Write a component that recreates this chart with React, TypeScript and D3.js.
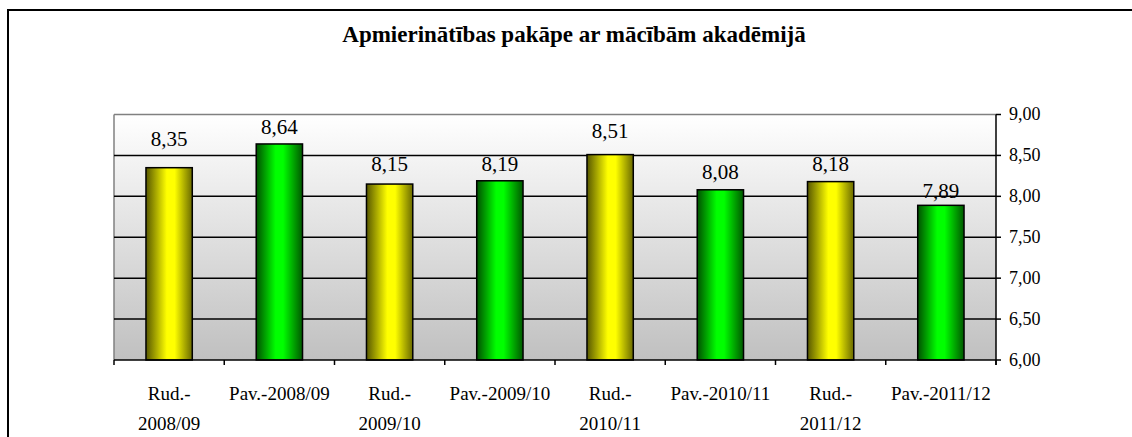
import React from "react";
import * as d3 from "d3";

const categories: string[][] = [
  ["Rud.-", "2008/09"],
  ["Pav.-2008/09"],
  ["Rud.-", "2009/10"],
  ["Pav.-2009/10"],
  ["Rud.-", "2010/11"],
  ["Pav.-2010/11"],
  ["Rud.-", "2011/12"],
  ["Pav.-2011/12"],
];
const values: number[] = [8.35, 8.64, 8.15, 8.19, 8.51, 8.08, 8.18, 7.89];
const barKinds: string[] = ["rud", "pav", "rud", "pav", "rud", "pav", "rud", "pav"];
const yTicks: number[] = [6.0, 6.5, 7.0, 7.5, 8.0, 8.5, 9.0];
const labelLift: number[] = [21.7, 10, 13, 9.6, 16.7, 10.7, 10.5, 7];
const title = "Apmierinātības pakāpe ar mācībām akadēmijā";

const W = 1132;
const H = 437;
const plot = { left: 114, right: 996, top: 114.5, bottom: 360 };

const fmt = (v: number) => v.toFixed(2).replace(".", ",");
const SERIF = "Liberation Serif";

export default function App() {
  const x = d3
    .scaleBand<number>()
    .domain(d3.range(values.length))
    .range([plot.left, plot.right])
    .paddingInner(0.58)
    .paddingOuter(0.29);
  const y = d3.scaleLinear().domain([6, 9]).range([plot.bottom, plot.top]);
  const step = x.step();
  const ts = { fontFamily: SERIF };

  return (
    <svg
      width={W}
      height={H}
      style={{ position: "absolute", left: 0, top: 0, display: "block", background: "#fff" }}
    >
      <defs>
        <linearGradient id="bg" x1="0" y1="0" x2="0" y2="1">
          <stop offset="0%" stopColor="#ffffff" />
          <stop offset="100%" stopColor="#c0c0c0" />
        </linearGradient>
        <linearGradient id="g-rud" x1="0" y1="0" x2="1" y2="0">
          <stop offset="0%" stopColor="#575700" />
          <stop offset="45%" stopColor="#ffff00" />
          <stop offset="62%" stopColor="#ffff00" />
          <stop offset="100%" stopColor="#6a6a00" />
        </linearGradient>
        <linearGradient id="g-pav" x1="0" y1="0" x2="1" y2="0">
          <stop offset="0%" stopColor="#005000" />
          <stop offset="42%" stopColor="#00ff00" />
          <stop offset="58%" stopColor="#00ff00" />
          <stop offset="100%" stopColor="#005800" />
        </linearGradient>
      </defs>

      {/* outer frame */}
      <rect x={8} y={10} width={W + 20} height={H + 20} fill="none" stroke="#000" strokeWidth={2} />

      <text x={574} y={42} textAnchor="middle" fontWeight="bold" fontSize={23} fill="#000" style={ts}>
        {title}
      </text>

      {/* plot background */}
      <rect
        x={plot.left}
        y={plot.top}
        width={plot.right - plot.left}
        height={plot.bottom - plot.top}
        fill="url(#bg)"
      />
      <line x1={plot.left} x2={plot.right} y1={plot.top} y2={plot.top} stroke="#808080" strokeWidth={1.5} />
      <line x1={plot.left} x2={plot.left} y1={plot.top} y2={plot.bottom} stroke="#808080" strokeWidth={1.5} />

      {/* gridlines */}
      {yTicks
        .filter((t) => t > 6 && t < 9)
        .map((t) => (
          <line key={t} x1={plot.left} x2={plot.right} y1={y(t)} y2={y(t)} stroke="#000" strokeWidth={1.5} />
        ))}

      {/* bars */}
      {values.map((v, i) => (
        <rect
          key={i}
          x={x(i)!}
          y={y(v)}
          width={x.bandwidth()}
          height={plot.bottom - y(v)}
          fill={`url(#g-${barKinds[i]})`}
          stroke="#000"
          strokeWidth={1.5}
        />
      ))}

      {/* value labels */}
      {values.map((v, i) => (
        <text
          key={i}
          x={x(i)! + x.bandwidth() / 2}
          y={y(v) - labelLift[i]}
          textAnchor="middle"
          fontSize={21}
          fill="#000"
          style={ts}
        >
          {fmt(v)}
        </text>
      ))}

      {/* bottom axis */}
      <line x1={plot.left} x2={plot.right} y1={plot.bottom} y2={plot.bottom} stroke="#000" strokeWidth={1.5} />
      {d3.range(values.length + 1).map((i) => {
        const xx = plot.left + i * step;
        return <line key={i} x1={xx} x2={xx} y1={plot.bottom} y2={plot.bottom + 5} stroke="#000" strokeWidth={1.5} />;
      })}
      {categories.map((lines, i) => (
        <text key={i} textAnchor="middle" fontSize={19} fill="#000" style={ts}>
          {lines.map((l, j) => (
            <tspan key={j} x={x(i)! + x.bandwidth() / 2} y={400 + j * 30}>
              {l}
            </tspan>
          ))}
        </text>
      ))}

      {/* right axis */}
      <line x1={plot.right} x2={plot.right} y1={plot.top} y2={plot.bottom + 5} stroke="#000" strokeWidth={1.5} />
      {yTicks.map((t) => (
        <g key={t}>
          <line x1={plot.right} x2={plot.right + 5} y1={y(t)} y2={y(t)} stroke="#000" strokeWidth={1.5} />
          <text x={1009} y={y(t) + 5.5} fontSize={18} fill="#000" style={ts}>
            {fmt(t)}
          </text>
        </g>
      ))}
    </svg>
  );
}
